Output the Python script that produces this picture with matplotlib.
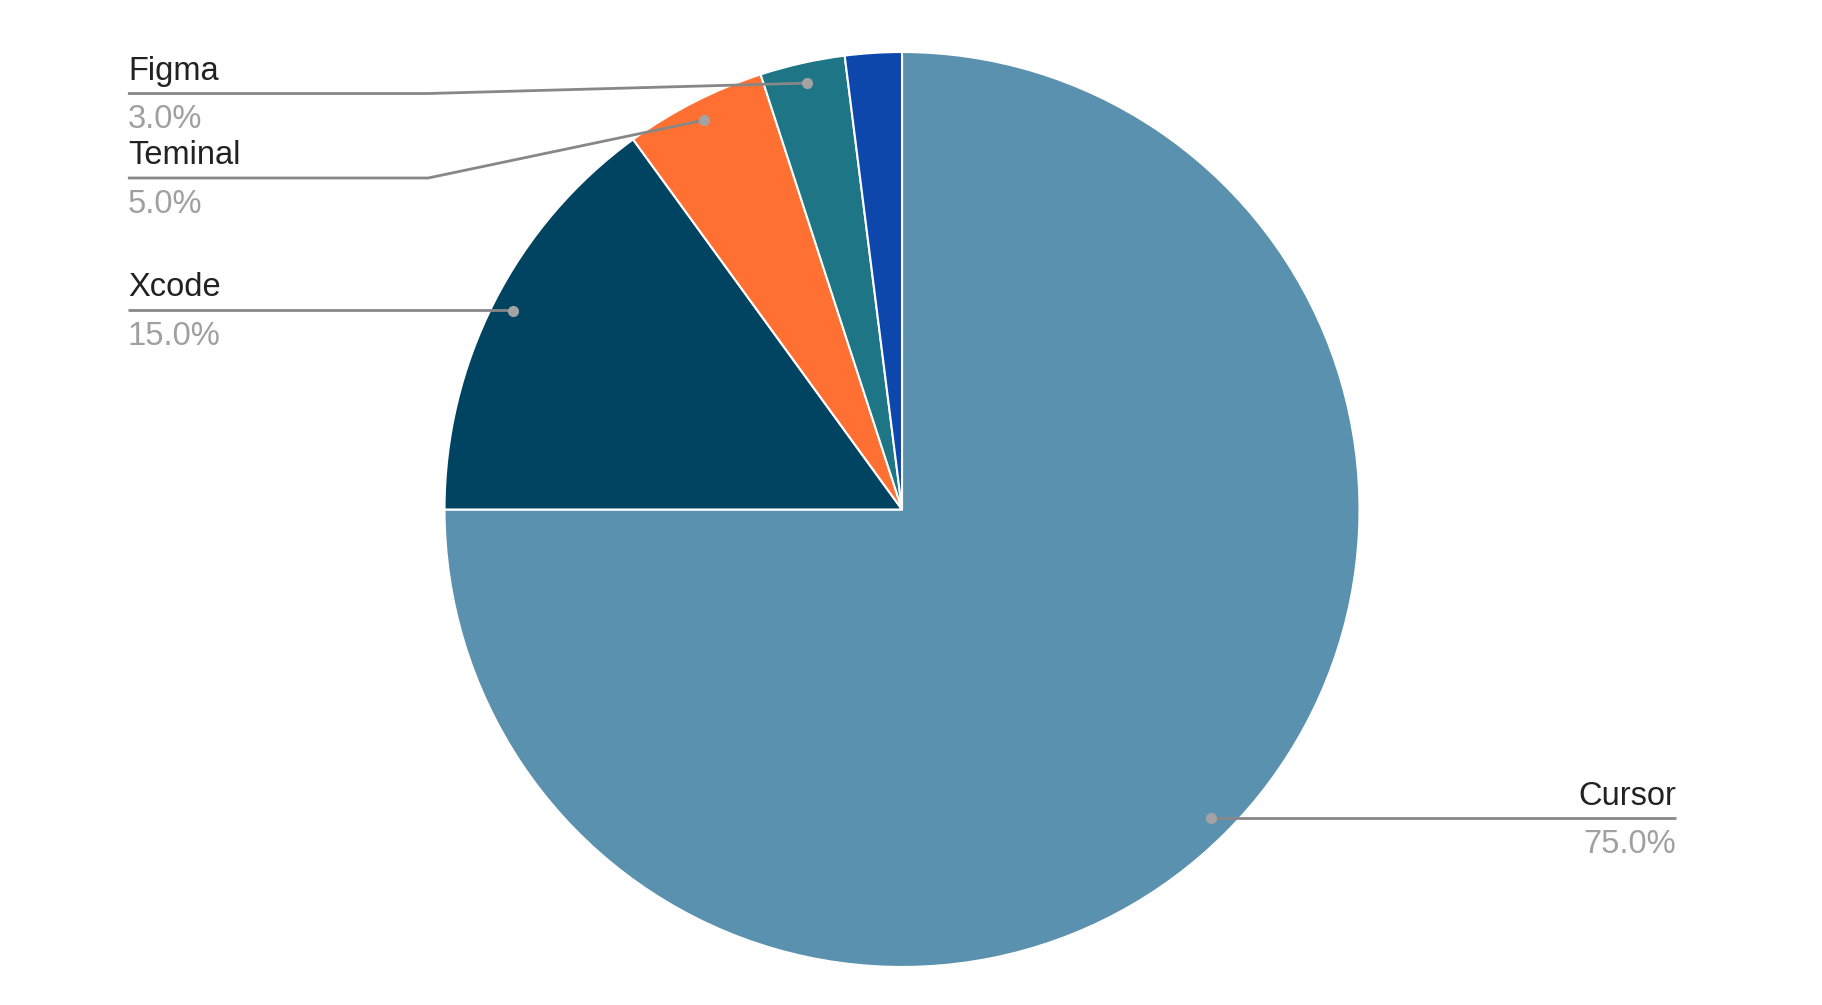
import numpy as np
import matplotlib.pyplot as plt

plt.rcParams["font.family"] = ["Liberation Sans", "DejaVu Sans"]

# datos del grafico
labels = ["Cursor", "Xcode", "Teminal", "Figma", ""]
values = [75.0, 15.0, 5.0, 3.0, 2.0]
colors = ["#5a91ae", "#014462", "#ff7032", "#1d7585", "#0d47ab"]
pct_text = ["75.0%", "15.0%", "5.0%", "3.0%", ""]

# etiquetas: lado y altura de la linea (radio = 1)
label_side = [1, -1, -1, -1, 0]
label_y = [-0.6765, 0.4361, 0.7246, 0.9093, 0]

fig = plt.figure(figsize=(18.22, 10.05), dpi=100)
ax = fig.add_axes([0, 0, 1, 1])

wedges, _ = ax.pie(values, colors=colors, startangle=90, counterclock=False,
                   radius=1, center=(0, 0),
                   wedgeprops=dict(edgecolor="white", linewidth=1.5))

ax.set_xlim(-1.9716, 2.0109)
ax.set_ylim(-1.0831, 1.1137)
ax.set_aspect("auto")
ax.axis("off")

line_c = "#878787"
dot_c = "#a3a3a3"
lx = 1.692
elbow = -1.036

for w, name, pct, side, ly in zip(wedges, labels, pct_text, label_side, label_y):
    if not name:
        continue
    ang = np.deg2rad((w.theta1 + w.theta2) / 2)
    dx, dy = 0.955 * np.cos(ang), 0.955 * np.sin(ang)
    if side < 0:
        if abs(dy - ly) < 0.02:
            xs, ys = [-lx, dx], [ly, ly]
        else:
            xs, ys = [-lx, elbow, dx], [ly, ly, dy]
        tx, ha = -lx, "left"
    else:
        xs, ys = [dx, lx], [dy, dy]
        ly = dy
        tx, ha = lx, "right"
    ax.plot(xs, ys, color=line_c, lw=2.0, solid_capstyle="butt", zorder=3)
    ax.plot(dx, dy, "o", color=dot_c, ms=7, zorder=4)
    ax.text(tx, ly + 0.03, name, ha=ha, va="baseline", fontsize=23.5, color="#222222")
    ax.text(tx, ly - 0.024, pct, ha=ha, va="top", fontsize=23.5, color="#a0a0a0")

fig.savefig("out.png", dpi=100)
